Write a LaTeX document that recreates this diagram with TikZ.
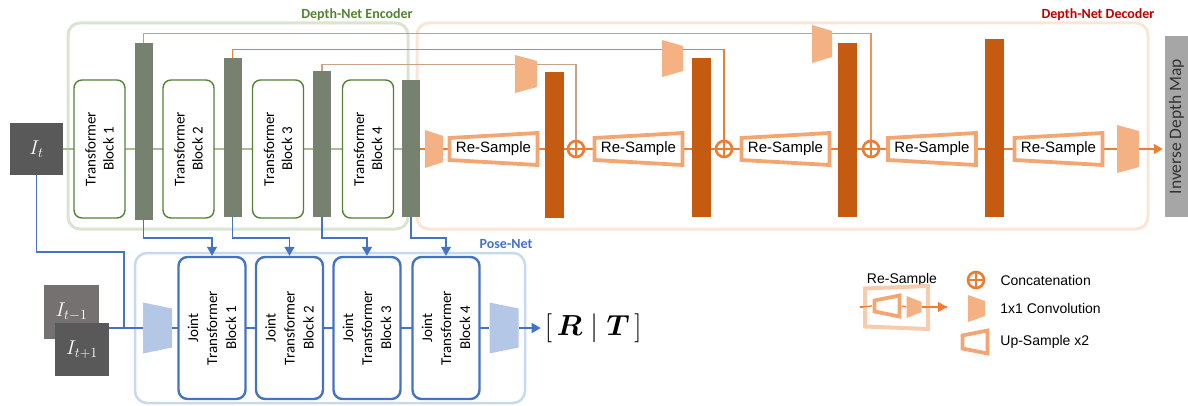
\RequirePackage{fix-cm}
\documentclass[tikz,border=0pt]{standalone}
\usepackage{fontspec}
\usepackage{amsmath}
\usepackage{bm}
\setmainfont{Carlito}
\newfontfamily\arialfont{Liberation Sans}
\usepackage{tikz}
\usetikzlibrary{arrows.meta,positioning,backgrounds}

\definecolor{encgreen}{HTML}{548235}
\definecolor{encframecol}{HTML}{D9E4D1}
\definecolor{enclinecol}{HTML}{A5BE92}
\definecolor{graybar}{HTML}{77816F}
\definecolor{decred}{HTML}{C00000}
\definecolor{decframecol}{HTML}{FBE5D6}
\definecolor{decorange}{HTML}{ED7D31}
\definecolor{darkorange}{HTML}{C55A11}
\definecolor{convorange}{HTML}{F4B183}
\definecolor{rsorange}{HTML}{F4A672}
\definecolor{skipA}{HTML}{F0935A}
\definecolor{skipC}{HTML}{C9A28A}
\definecolor{poseblue}{HTML}{4472C4}
\definecolor{poseframecol}{HTML}{C5D9F1}
\definecolor{poseconv}{HTML}{B4C7E7}
\definecolor{imgdark}{HTML}{595959}
\definecolor{imggray}{HTML}{767171}
\definecolor{depthgray}{HTML}{A6A6A6}
\definecolor{legpeach}{HTML}{F8CBAD}

\begin{document}
\begin{tikzpicture}[x=1pt,y=-1pt,>={Triangle[length=9pt,width=10pt]}]
  \tikzstyle{imgbox}=[rectangle,inner sep=0pt,minimum width=53pt,minimum height=52pt,text=white,font=\fontsize{20}{24}\selectfont]
  \tikzstyle{tblock}=[rectangle,rounded corners=8pt,draw=encgreen,line width=1.4pt,fill=white,rotate=90,
                      minimum width=138pt,minimum height=51pt,inner sep=0pt,align=center,font=\fontsize{15}{18}\selectfont]
  \tikzstyle{jblock}=[rectangle,rounded corners=9pt,draw=poseblue,line width=2.4pt,fill=white,rotate=90,
                      minimum width=142pt,minimum height=67pt,inner sep=0pt,align=center,font=\fontsize{15}{19}\selectfont]
  \tikzstyle{gbar}=[rectangle,fill=graybar,minimum width=18pt,inner sep=0pt]
  \tikzstyle{obar}=[rectangle,fill=darkorange,minimum width=19pt,inner sep=0pt]
  \tikzstyle{conv}=[rectangle,inner sep=0pt,path picture={
      \fill[convorange] (path picture bounding box.north west) -- ([yshift=-6pt]path picture bounding box.north east)
        -- ([yshift=6pt]path picture bounding box.south east) -- (path picture bounding box.south west) -- cycle;}]
  \tikzstyle{pconv}=[rectangle,inner sep=0pt,minimum width=29pt,minimum height=51pt,path picture={
      \fill[poseconv] (path picture bounding box.north west) -- ([yshift=-6pt]path picture bounding box.north east)
        -- ([yshift=6pt]path picture bounding box.south east) -- (path picture bounding box.south west) -- cycle;}]
  \tikzstyle{upsample}=[rectangle,inner sep=0pt,path picture={
      \filldraw[fill=white,draw=rsorange,line width=3.8pt] ([shift={(2.5pt,-7.5pt)}]path picture bounding box.north west)
        -- ([shift={(-2.5pt,-2.5pt)}]path picture bounding box.north east) -- ([shift={(-2.5pt,2.5pt)}]path picture bounding box.south east)
        -- ([shift={(2.5pt,7.5pt)}]path picture bounding box.south west) -- cycle;}]
  \tikzstyle{resample}=[upsample,minimum width=93pt,minimum height=37pt,font=\arialfont\fontsize{15}{18}\selectfont]
  \tikzstyle{cat}=[circle,draw=decorange,line width=2.6pt,fill=white,minimum size=16pt,inner sep=0pt,path picture={
      \draw[decorange,line width=2.6pt] (path picture bounding box.north) -- (path picture bounding box.south)
        (path picture bounding box.west) -- (path picture bounding box.east);}]
  \tikzstyle{framelabel}=[font=\bfseries\fontsize{14}{16}\selectfont,inner sep=0pt]
  \tikzstyle{legtext}=[font=\arialfont\fontsize{14}{16}\selectfont,inner sep=0pt,anchor=west]
  \tikzstyle{encline}=[draw=enclinecol,line width=1.3pt]
  \tikzstyle{decline}=[draw=decorange,line width=1.3pt]
  \tikzstyle{poseline}=[draw=poseblue,line width=1.2pt]

  \useasboundingbox (0,0) rectangle (1188,406);

  % depth-net encoder
  \node[imgbox,fill=imgdark] (It) at (36.5,149) {$I_t$};
  \node[tblock] (tb1) at (99.5,149) {Transformer\\Block 1};
  \node[tblock] (tb2) at (188.5,149) {Transformer\\Block 2};
  \node[tblock] (tb3) at (278,149) {Transformer\\Block 3};
  \node[tblock] (tb4) at (368,149) {Transformer\\Block 4};
  \node[gbar,minimum height=177pt] (bar1) at (143.5,131.5) {};
  \node[gbar,minimum height=159pt] (bar2) at (232.5,137.5) {};
  \node[gbar,minimum height=146pt] (bar3) at (322,144) {};
  \node[gbar,minimum height=137pt] (bar4) at (411,148.5) {};

  % depth-net decoder
  \node[conv,minimum width=18pt,minimum height=38pt] (conv0) at (434,149) {};
  \node[resample] (rs1) at (493.5,149) {Re-Sample};
  \node[obar,minimum height=146pt] (dbar1) at (554.5,145) {};
  \node[cat] (cat1) at (576,149) {};
  \node[resample] (rs2) at (638.5,149) {Re-Sample};
  \node[obar,minimum height=159pt] (dbar2) at (701,137.5) {};
  \node[cat] (cat2) at (724,149) {};
  \node[resample] (rs3) at (785.5,149) {Re-Sample};
  \node[obar,minimum height=174pt] (dbar3) at (847.5,130) {};
  \node[cat] (cat3) at (871,149) {};
  \node[resample] (rs4) at (932,149) {Re-Sample};
  \node[obar,minimum height=178pt] (dbar4) at (994.5,128) {};
  \node[resample] (rs5) at (1058.5,149) {Re-Sample};
  \node[conv,minimum width=22pt,minimum height=48pt] (convf) at (1128,149) {};
  \node[rectangle,fill=depthgray,rotate=90,minimum width=181pt,minimum height=23pt,inner sep=0pt,
        text=black!80,font=\fontsize{17.5}{19}\selectfont] (depth) at (1176.5,126.5) {Inverse Depth Map};
  \node[conv,minimum width=22pt,minimum height=38pt] (sconv1) at (526,74) {};
  \node[conv,minimum width=21pt,minimum height=37pt] (sconv2) at (672.5,58.5) {};
  \node[conv,minimum width=20pt,minimum height=38pt] (sconv3) at (822,44) {};

  % pose-net
  \node[imgbox,fill=imggray,minimum width=55pt,minimum height=54pt] (Itm1) at (71.5,312) {$I_{t-1}$};
  \node[imgbox,fill=imgdark,minimum width=54pt,minimum height=53pt] (Itp1) at (82,349.5) {$I_{t+1}$};
  \node[pconv] (pconv0) at (157.5,328) {};
  \node[jblock] (jb1) at (212,328) {Joint\\Transformer\\Block 1};
  \node[jblock] (jb2) at (289.5,328) {Joint\\Transformer\\Block 2};
  \node[jblock] (jb3) at (367,328) {Joint\\Transformer\\Block 3};
  \node[jblock] (jb4) at (446,328) {Joint\\Transformer\\Block 4};
  \node[pconv] (pconv1) at (504,328) {};
  \node[inner sep=0pt,font=\fontsize{29}{31}\selectfont,right=26pt of pconv1] (rt) {$[\,\bm{R}\mid\bm{T}\,]$};

  \coordinate (itbend) at (124,252);
  \coordinate (join) at (124,328);
  \coordinate (dropline) at (0,238);

  \begin{scope}[on background layer]
    \node[rectangle,rounded corners=12pt,draw=encframecol,line width=3pt,minimum width=340pt,minimum height=206pt] (enc) at (238,126) {};
    \node[rectangle,rounded corners=12pt,draw=decframecol,line width=3pt,minimum width=731pt,minimum height=206pt] (dec) at (782.5,126) {};
    \node[rectangle,rounded corners=12pt,draw=poseframecol,line width=2.5pt,minimum width=390pt,minimum height=150pt] (pose) at (330,328) {};

    \draw[encline] (It.east) -- (bar4.west |- It.east);
    \draw[decline] (bar4.east |- conv0.west) -- (convf.west);
    \draw[decline,->,shorten >=2pt] (convf.east) -- (convf.east -| depth.north);
    % skip connections
    \draw[decline,draw=skipA] (bar1.north) -- ++(0,-9) -| (cat3.north);
    \draw[decline] (bar2.north) -- ++(0,-8) -| (cat2.north);
    \draw[decline,draw=skipC] (bar3.north) -- ++(0,-6) -| (cat1.north);

    \draw[poseline] (It.south) |- (itbend) -- (join);
    \draw[poseline] (Itp1.east |- join) -- (pconv1.west);
    \draw[poseline,->,shorten >=4pt] (pconv1.east) -- (rt.west);
    \draw[poseline,->] (bar1.south) -- (bar1.south |- dropline) -| (jb1.east);
    \draw[poseline,->] (bar2.south) -- (bar2.south |- dropline) -| (jb2.east);
    \draw[poseline,->] (bar3.south) -- (bar3.south |- dropline) -| (jb3.east);
    \draw[poseline,->] (bar4.south) -- (bar4.south |- dropline) -| (jb4.east);
  \end{scope}

  \node[framelabel,text=encgreen] (enclabel) at (357,15) {Depth-Net Encoder};
  \node[framelabel,text=decred] (declabel) at (1098,15) {Depth-Net Decoder};
  \node[framelabel,text=poseblue] (poselabel) at (506,244) {Pose-Net};

  % legend
  \node[font=\arialfont\fontsize{14}{16}\selectfont,inner sep=0pt] (legrstext) at (902,280) {Re-Sample};
  \coordinate (legin) at (860,307);
  \coordinate (legout) at (947,307);
  \draw[decline] (legin) -- (legout);
  \node[rectangle,inner sep=0pt,minimum width=68pt,minimum height=48pt,path picture={
      \filldraw[fill=white,draw=legpeach,line width=4pt] ([shift={(2.5pt,-5pt)}]path picture bounding box.north west)
        -- ([shift={(-2.5pt,-2.5pt)}]path picture bounding box.north east) -- ([shift={(-2.5pt,2.5pt)}]path picture bounding box.south east)
        -- ([shift={(2.5pt,5pt)}]path picture bounding box.south west) -- cycle;}] (legrs) at (896.5,307.5) {};
  \node[upsample,minimum width=30pt,minimum height=26pt] (legup) at (887,306) {};
  \node[conv,minimum width=15pt,minimum height=22pt] (legconv) at (914,307) {};
  \draw[decline] (legin -| legrs.west) -- (legup.west);
  \draw[decline] (legup.east) -- (legconv.west);
  \draw[decline,->] (legconv.east) -- (legout);

  \node[cat] (legcat) at (976,280) {};
  \node[conv,minimum width=17pt,minimum height=27pt] (legconvicon) at (976.5,308.5) {};
  \node[upsample,minimum width=30pt,minimum height=28pt] (legupicon) at (975,342) {};
  \node[legtext,right=15pt of legcat] {Concatenation};
  \node[legtext,right=15pt of legconvicon] {1x1 Convolution};
  \node[legtext,right=10pt of legupicon] {Up-Sample x2};
\end{tikzpicture}
\end{document}
